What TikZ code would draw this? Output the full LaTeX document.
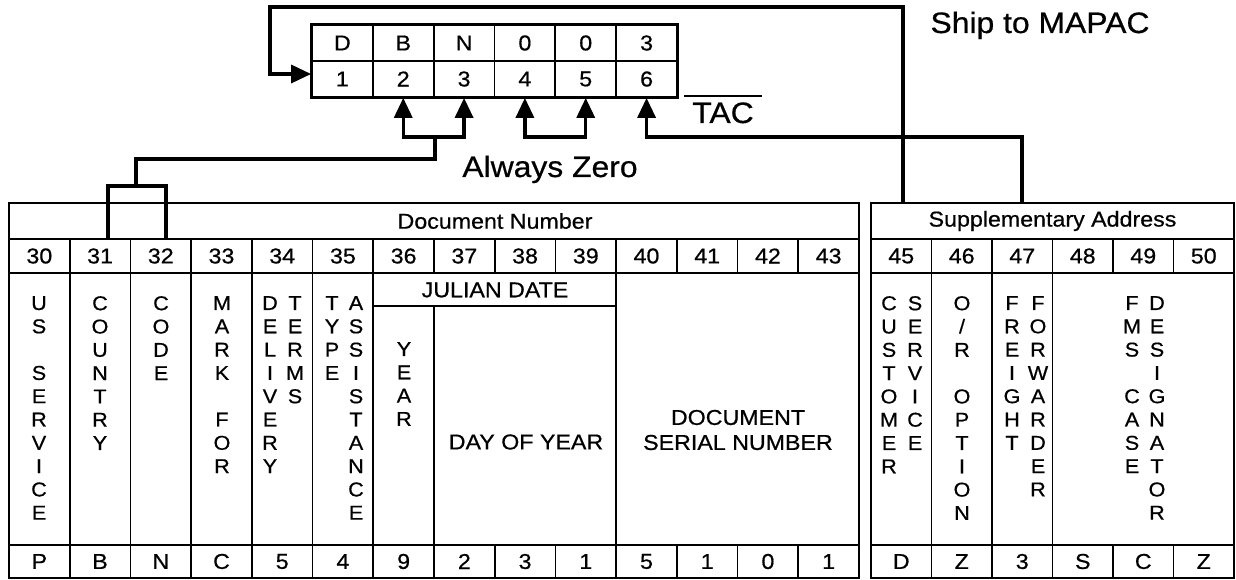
\documentclass[tikz,border=0pt]{standalone}
\usepackage{fontspec}
\setmainfont{Liberation Sans}[FakeStretch=1.08,FakeBold=0.6]
\usetikzlibrary{arrows.meta,positioning}

\tikzset{
	rule/.style={line width=1.8pt},
	frame/.style={line width=2.6pt},
	wire/.style={line width=3.4pt},
	txt/.style={font=\fontsize{21.5}{25}\selectfont,inner sep=0pt},
	big/.style={font=\fontsize{29.5}{34}\selectfont,inner sep=0pt},
	letters/.style={font=\fontsize{20}{23.3}\selectfont,align=center,anchor=north,inner sep=0pt},
	cell/.style={draw,rule,minimum width=60.83pt,minimum height=36pt,txt},
}

\begin{document}
\begin{tikzpicture}[x=1pt,y=-1pt,>={Triangle[length=20pt,width=18pt]}]
	\useasboundingbox (0,0) rectangle (1236,580);
	%
	% code box
	\foreach \t [count=\i] in {D,B,N,0,0,3}
		\node[cell] (t\i) at ({312+60.83*(\i-0.5)},43) {\t};
	\foreach \i in {1,...,6}
		\node[cell] (b\i) at ({312+60.83*(\i-0.5)},79) {\i};
	\draw[frame] (t1.north west) rectangle (b6.south east);
	%
	\node[big,anchor=base] (ship) at (1040,33) {Ship to MAPAC};
	\node[big,anchor=base] (always) at (550,177) {Always Zero};
	\node[big,anchor=base,minimum width=77pt,inner ysep=6pt] (tac) at (723,123) {TAC};
	\draw[rule] (tac.north west) -- (tac.north east);
	%
	% document number
	\draw[frame] (9,203) rectangle (859,578);
	\foreach \y in {239,273,545} \draw[rule] (9,\y) -- (859,\y);
	\foreach \i in {1,...,13} {
		\draw[rule] ({9+60.714*\i},239) -- ({9+60.714*\i},273);
		\draw[rule] ({9+60.714*\i},545) -- ({9+60.714*\i},578);
	}
	\foreach \i in {1,...,6,10} \draw[rule] ({9+60.714*\i},273) -- ({9+60.714*\i},545);
	\draw[rule] ({9+60.714*7},306) -- ({9+60.714*7},545);
	\draw[rule] ({9+60.714*6},306) -- ({9+60.714*10},306);
	\node[txt] (docnum) at (495,221) {Document Number};
	\foreach \i in {0,...,13} {
		\pgfmathtruncatemacro\n{30+\i}
		\node[txt] (n\n) at ({9+60.714*(\i+0.5)},256) {\n};
	}
	\foreach \v [count=\i from 0] in {P,B,N,C,5,4,9,2,3,1,5,1,0,1} {
		\pgfmathtruncatemacro\n{30+\i}
		\node[txt] (v\n) at ({9+60.714*(\i+0.5)},561.5) {\v};
	}
	\node[letters] (usserv) at (39,296) {U\\S\\ \\S\\E\\R\\V\\I\\C\\E};
	\node[letters] (country) at (100,296) {C\\O\\U\\N\\T\\R\\Y};
	\node[letters] (code) at (161,296) {C\\O\\D\\E};
	\node[letters] (markfor) at (222,296) {M\\A\\R\\K\\ \\F\\O\\R};
	\node[letters] (delivery) at (270,296) {D\\E\\L\\I\\V\\E\\R\\Y};
	\node[letters] (terms) at (295,296) {T\\E\\R\\M\\S};
	\node[letters] (type) at (332,296) {T\\Y\\P\\E};
	\node[letters] (assist) at (356,296) {A\\S\\S\\I\\S\\T\\A\\N\\C\\E};
	\node[letters] (year) at (404,342) {Y\\E\\A\\R};
	\node[txt] (julian) at (495,290) {JULIAN DATE};
	\node[txt] (dayofyear) at (526,442) {DAY OF YEAR};
	\node[txt,align=center] (serial) at (738,430) {DOCUMENT\\SERIAL NUMBER};
	%
	% supplementary address
	\draw[frame] (871,203) rectangle (1234,578);
	\foreach \y in {239,273,545} \draw[rule] (871,\y) -- (1234,\y);
	\foreach \i in {1,...,5} {
		\draw[rule] ({871+60.5*\i},239) -- ({871+60.5*\i},273);
		\draw[rule] ({871+60.5*\i},545) -- ({871+60.5*\i},578);
	}
	\foreach \i in {1,...,3} \draw[rule] ({871+60.5*\i},273) -- ({871+60.5*\i},545);
	\node[txt] (supp) at (1052.5,221) {Supplementary Address};
	\foreach \i in {0,...,5} {
		\pgfmathtruncatemacro\n{45+\i}
		\node[txt] (n\n) at ({871+60.5*(\i+0.5)},256) {\n};
	}
	\foreach \v [count=\i from 0] in {D,Z,3,S,C,Z} {
		\pgfmathtruncatemacro\n{45+\i}
		\node[txt] (v\n) at ({871+60.5*(\i+0.5)},561.5) {\v};
	}
	\node[letters] (customer) at (889,296) {C\\U\\S\\T\\O\\M\\E\\R};
	\node[letters] (service) at (915,296) {S\\E\\R\\V\\I\\C\\E};
	\node[letters] (option) at (962,296) {O\\/\\R\\ \\O\\P\\T\\I\\O\\N};
	\node[letters] (freight) at (1012,296) {F\\R\\E\\I\\G\\H\\T};
	\node[letters] (forwarder) at (1038,296) {F\\O\\R\\W\\A\\R\\D\\E\\R};
	\node[letters] (fmscase) at (1132,296) {F\\M\\S\\ \\C\\A\\S\\E};
	\node[letters] (designator) at (1157,296) {D\\E\\S\\I\\G\\N\\A\\T\\O\\R};
	%
	% connectors
	\coordinate (s45) at (903,203);
	\coordinate (s47) at (1022,203);
	\coordinate (loop) at (270,7);
	\coordinate (bar) at (0,137);
	\coordinate (az) at (435,137);
	\coordinate (knee) at (136,159);
	\coordinate (fork) at (136,186);
	\coordinate (c31) at (108,239);
	\coordinate (c32) at (166,239);
	\draw[wire,->] (s45) |- (loop) |- ([yshift=5pt]b1.west);
	\draw[wire,->] (s47) |- (b6.south |- bar) -- (b6.south);
	\draw[wire,<->] (b2.south) -- (b2.south |- bar) -- (b3.south |- bar) -- (b3.south);
	\draw[wire,<->] (b4.south) -- (b4.south |- bar) -- (b5.south |- bar) -- (b5.south);
	\draw[wire] (az) |- (knee) -- (fork);
	\draw[wire] (c31) |- (fork) -| (c32);
\end{tikzpicture}
\end{document}
